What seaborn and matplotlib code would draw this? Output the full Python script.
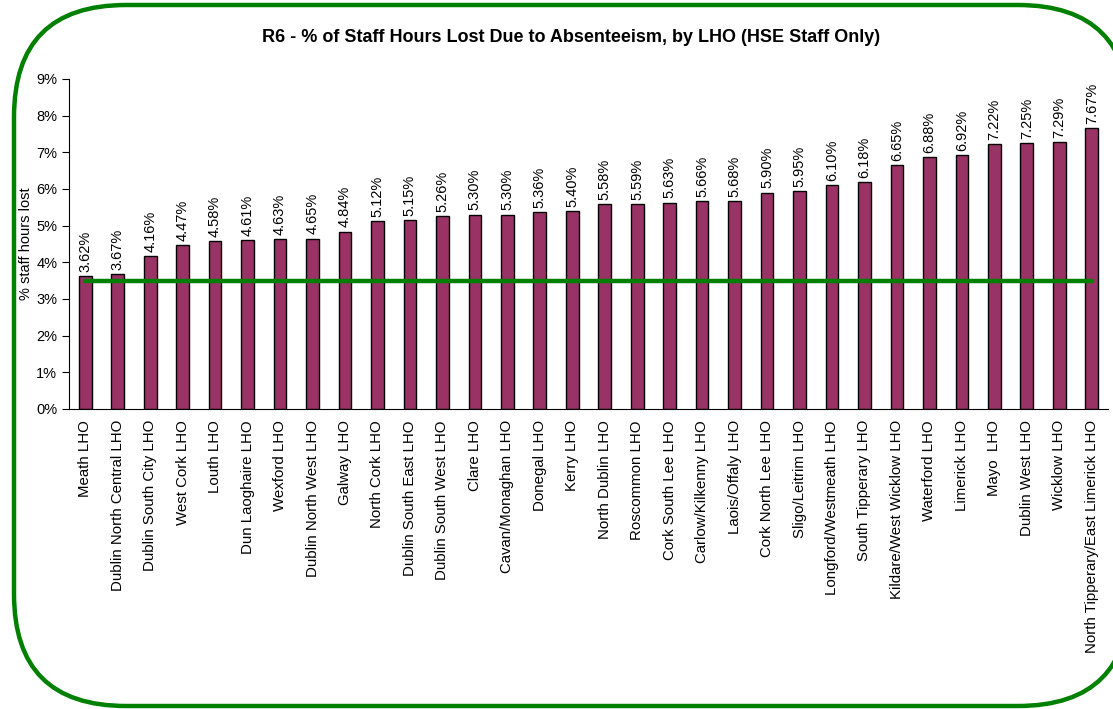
import matplotlib
matplotlib.use("Agg")
import matplotlib.pyplot as plt
import seaborn as sns
import pandas as pd
from matplotlib.patches import FancyBboxPatch
from matplotlib.ticker import FixedLocator

categories = ["Meath LHO", "Dublin North Central LHO", "Dublin South City LHO", "West Cork LHO",
              "Louth LHO", "Dun Laoghaire LHO", "Wexford LHO", "Dublin North West LHO",
              "Galway LHO", "North Cork LHO", "Dublin South East LHO", "Dublin South West LHO",
              "Clare LHO", "Cavan/Monaghan LHO", "Donegal LHO", "Kerry LHO",
              "North Dublin LHO", "Roscommon LHO", "Cork South Lee LHO", "Carlow/Kilkenny LHO",
              "Laois/Offaly LHO", "Cork North Lee LHO", "Sligo/Leitrim LHO", "Longford/Westmeath LHO",
              "South Tipperary LHO", "Kildare/West Wicklow LHO", "Waterford LHO", "Limerick LHO",
              "Mayo  LHO", "Dublin West LHO", "Wicklow LHO", "North Tipperary/East Limerick LHO"]
values = [3.62, 3.67, 4.16, 4.47, 4.58, 4.61, 4.63, 4.65, 4.84, 5.12, 5.15, 5.26,
          5.30, 5.30, 5.36, 5.40, 5.58, 5.59, 5.63, 5.66, 5.68, 5.90, 5.95, 6.10,
          6.18, 6.65, 6.88, 6.92, 7.22, 7.25, 7.29, 7.67]
target = 3.5
yticks = [0, 1, 2, 3, 4, 5, 6, 7, 8, 9]

sns.set_style("white")
plt.rcParams['font.family'] = ['Liberation Sans', 'DejaVu Sans']
plt.rcParams.update({"text.color": "black", "axes.labelcolor": "black",
                     "xtick.color": "black", "ytick.color": "black"})

W, H = 1113, 709
fig = plt.figure(figsize=(W / 100, H / 100), dpi=100)

# background frame axes in pixel coordinates
bg = fig.add_axes([0, 0, 1, 1], zorder=-1)
bg.set_xlim(0, W)
bg.set_ylim(0, H)
bg.axis("off")
frame = FancyBboxPatch((14, 3), 1116, 701,
                       boxstyle="round,pad=0,rounding_size=112",
                       facecolor="white", edgecolor="#008000", linewidth=3.2)
bg.add_patch(frame)

ax = fig.add_axes([69 / W, 1 - 409 / H, (1108 - 69) / W, (409 - 79) / H])
ax.patch.set_alpha(0)
df = pd.DataFrame({"LHO": categories, "pct": values})
sns.barplot(data=df, x="LHO", y="pct", color="#993366", saturation=1, width=0.39,
            edgecolor="black", linewidth=1.0, ax=ax)

for c in ax.containers:
    ax.bar_label(c, labels=[f"{v:.2f}%" for v in values], rotation=90, padding=3,
                 fontsize=10.5, color="black")

ax.plot([-0.02, len(categories) - 1.0], [target, target], color="#008000", linewidth=3.2,
        solid_capstyle="round", zorder=5)

ax.set_xlim(-0.5, len(categories) - 0.5)
ax.set_ylim(0, 9)
ax.set_yticks(yticks)
ax.set_yticklabels([f"{t}%" for t in yticks], fontsize=10.5)
ax.set_xticks(range(len(categories)))
ax.set_xticklabels(categories, rotation=90, fontsize=10.8)
ax.xaxis.set_minor_locator(FixedLocator([i - 0.5 for i in range(len(categories) + 1)]))
ax.tick_params(axis="x", which="major", length=0, pad=8)
ax.tick_params(axis="x", which="minor", length=5, direction="out", width=0.8, color="black")
ax.tick_params(axis="y", length=5, direction="out", width=0.8, color="black", left=True)
ax.set_xlabel("")
ax.set_ylabel("% staff hours lost", fontsize=10.5, labelpad=2)
sns.despine(ax=ax)
for s in ["left", "bottom"]:
    ax.spines[s].set_color("black")
    ax.spines[s].set_linewidth(0.8)

fig.text(571 / W, 1 - 37 / H, "R6 - % of Staff Hours Lost Due to Absenteeism, by LHO (HSE Staff Only)",
         ha="center", va="center", fontsize=13, fontweight="bold", color="black")

fig.savefig("out.png", dpi=100)
